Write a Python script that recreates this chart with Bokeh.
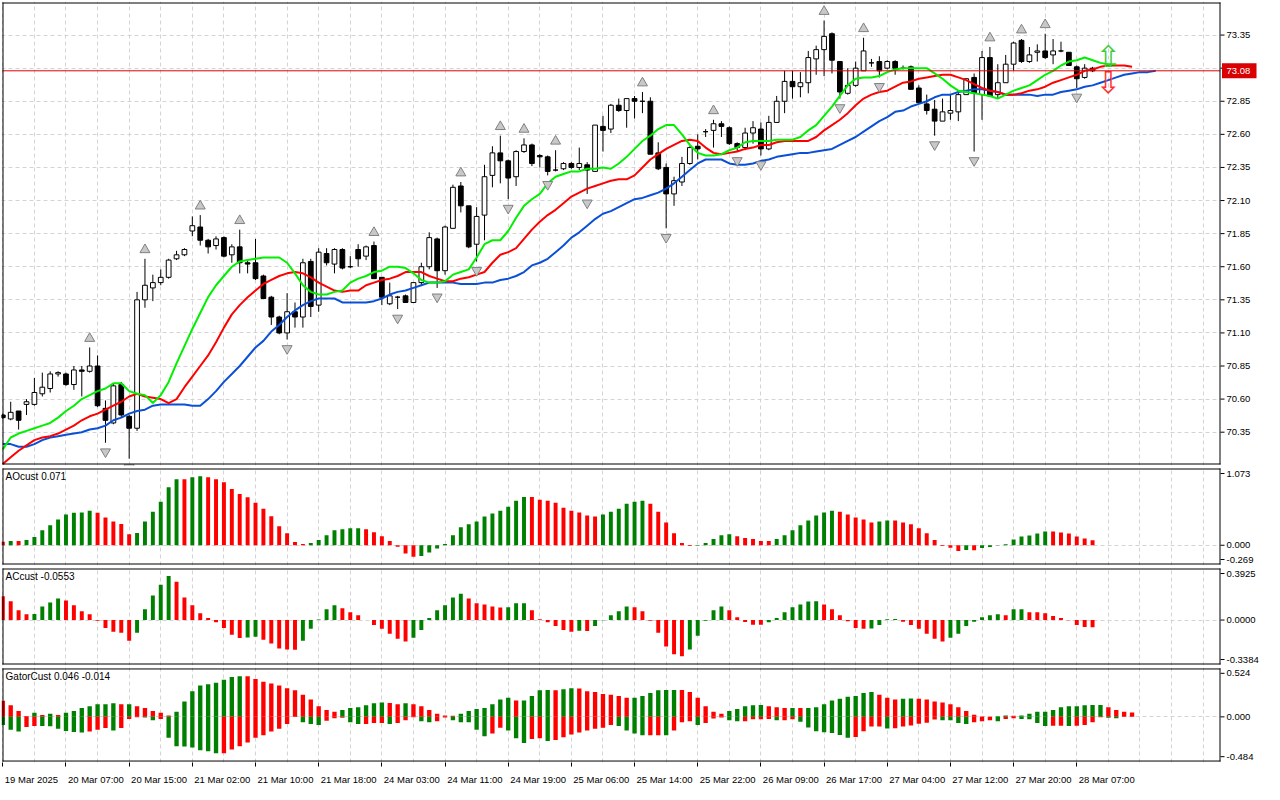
from bokeh.plotting import figure
from bokeh.layouts import column
from bokeh.models import Range1d, FixedTicker, Label
from bokeh.embed import file_html
from bokeh.resources import INLINE
from bokeh.core.properties import value

# ---------------- data ----------------
tick_bars = [0, 8, 16, 24, 32, 40, 48, 56, 64, 72, 80, 88, 96, 104, 112, 120, 128, 136]
tick_labels = ["19 Mar 2025", "20 Mar 07:00", "20 Mar 15:00", "21 Mar 02:00", "21 Mar 10:00",
               "21 Mar 18:00", "24 Mar 03:00", "24 Mar 11:00", "24 Mar 19:00", "25 Mar 06:00",
               "25 Mar 14:00", "25 Mar 22:00", "26 Mar 09:00", "26 Mar 17:00", "27 Mar 04:00",
               "27 Mar 12:00", "27 Mar 20:00", "28 Mar 07:00"]

opens = [70.48,70.45,70.51,70.56,70.56,70.64,70.68,70.79,70.79,70.71,
         70.82,70.81,70.85,70.53,70.42,70.71,70.47,70.38,71.35,71.44,
         71.48,71.52,71.66,71.69,71.87,71.90,71.80,71.76,71.82,71.69,
         71.75,71.63,71.63,71.53,71.37,71.22,71.10,71.26,71.22,71.64,
         71.31,71.70,71.62,71.73,71.60,71.73,71.68,71.76,71.52,71.32,
         71.37,71.38,71.33,71.48,71.60,71.81,71.57,71.89,72.21,72.06,
         71.77,71.99,72.29,72.46,72.40,72.28,72.47,72.52,72.44,72.43,
         72.33,72.34,72.38,72.35,72.37,72.32,72.66,72.64,72.82,72.78,
         72.87,72.85,72.85,72.46,72.35,72.15,72.24,72.38,72.51,72.62,
         72.63,72.68,72.65,72.53,72.50,72.61,72.64,72.49,72.69,72.85,
         73.00,72.96,72.99,73.17,73.24,73.36,73.15,72.91,72.97,73.08,
         73.14,73.15,73.10,73.15,73.10,73.11,72.95,72.83,72.79,72.70,
         72.76,72.77,72.90,73.03,72.90,73.18,72.90,72.99,73.13,73.31,
         73.15,73.22,73.23,73.20,73.23,73.22,73.11,73.03,73.10]
highs = [70.49,70.58,70.51,70.60,70.76,70.80,70.81,70.81,70.80,70.85,
         70.85,70.99,70.93,70.59,70.72,70.73,70.48,71.41,71.66,71.54,
         71.58,71.66,71.72,71.74,71.98,71.99,71.81,71.83,71.83,71.77,
         71.88,71.65,71.81,71.54,71.38,71.23,71.40,71.33,71.66,71.66,
         71.74,71.74,71.74,71.74,71.68,71.77,71.76,71.79,71.52,71.48,
         71.38,71.39,71.48,71.63,71.86,71.82,71.91,72.22,72.24,72.06,
         72.05,72.37,72.51,72.59,72.41,72.48,72.57,72.53,72.45,72.44,
         72.48,72.39,72.39,72.50,72.39,72.67,72.74,72.83,72.87,72.87,
         72.89,72.92,72.88,72.54,72.38,72.28,72.43,72.51,72.60,72.64,
         72.71,72.70,72.66,72.54,72.65,72.70,72.69,72.74,72.89,73.08,
         73.08,73.07,73.23,73.27,73.46,73.37,73.15,73.10,73.15,73.33,
         73.17,73.19,73.16,73.16,73.12,73.12,72.97,72.90,72.86,72.87,
         72.90,72.92,73.02,73.06,73.23,73.26,73.13,73.20,73.30,73.32,
         73.26,73.28,73.36,73.32,73.30,73.22,73.12,73.13,73.11]
lows = [70.45,70.44,70.37,70.48,70.55,70.62,70.65,70.77,70.70,70.67,
        70.62,70.80,70.54,70.27,70.41,70.46,70.15,70.36,71.29,71.34,
        71.46,71.51,71.65,71.68,71.83,71.76,71.70,71.73,71.67,71.63,
        71.55,71.55,71.50,71.36,71.16,71.09,71.05,71.14,71.14,71.22,
        71.26,71.61,71.55,71.58,71.59,71.60,71.65,71.51,71.31,71.31,
        71.28,71.33,71.33,71.46,71.58,71.44,71.54,71.89,72.01,71.74,
        71.64,71.80,72.20,72.23,72.11,72.21,72.46,72.36,72.35,72.29,
        72.32,72.33,72.34,72.33,72.15,72.32,72.47,72.61,72.77,72.65,
        72.72,72.76,72.45,72.33,71.89,72.06,72.21,72.37,72.41,72.58,
        72.50,72.58,72.52,72.47,72.48,72.53,72.44,72.48,72.69,72.76,
        72.87,72.88,72.91,73.05,73.04,73.06,72.87,72.90,72.96,73.08,
        73.11,73.03,73.09,73.05,73.09,72.94,72.84,72.75,72.59,72.70,
        72.71,72.70,72.90,72.47,72.71,72.89,72.87,72.99,73.08,73.14,
        73.14,73.15,73.17,73.13,73.22,73.12,72.95,73.02,73.07]
closes = [70.46,70.50,70.44,70.58,70.65,70.69,70.79,70.80,70.71,70.82,
          70.81,70.85,70.55,70.44,70.70,70.48,70.38,71.35,71.46,71.48,
          71.52,71.65,71.69,71.73,71.91,71.80,71.75,71.81,71.68,71.75,
          71.63,71.62,71.51,71.36,71.22,71.10,71.26,71.22,71.63,71.30,
          71.71,71.63,71.73,71.59,71.60,71.66,71.75,71.51,71.37,71.38,
          71.37,71.33,71.48,71.60,71.82,71.57,71.90,72.20,72.06,71.75,
          71.98,72.28,72.46,72.40,72.27,72.47,72.52,72.38,72.43,72.32,
          72.33,72.38,72.35,72.38,72.33,72.67,72.63,72.82,72.78,72.87,
          72.85,72.85,72.45,72.34,72.15,72.25,72.38,72.50,72.49,72.62,
          72.68,72.66,72.53,72.50,72.61,72.65,72.49,72.69,72.85,73.00,
          72.96,72.99,73.18,73.24,73.34,73.16,72.92,72.97,73.10,73.23,
          73.14,73.08,73.15,73.10,73.10,72.94,72.84,72.78,72.70,72.77,
          72.78,72.90,73.02,72.91,73.18,72.89,72.99,73.13,73.29,73.15,
          73.20,73.23,73.18,73.23,73.23,73.12,73.02,73.10,73.08]

# Alligator (already shifted forward as displayed)
lips = [70.22,70.31,70.34,70.36,70.38,70.40,70.42,70.46,70.51,70.55,
        70.60,70.63,70.66,70.68,70.72,70.72,70.66,70.64,70.63,70.57,
        70.63,70.73,70.87,71.00,71.13,71.25,71.37,71.46,71.53,71.60,
        71.64,71.65,71.66,71.67,71.67,71.67,71.63,71.55,71.46,71.41,
        71.39,71.39,71.41,71.42,71.48,71.51,71.53,71.56,71.57,71.60,
        71.60,71.59,71.55,71.50,71.48,71.48,71.49,71.54,71.56,71.58,
        71.67,71.77,71.80,71.80,71.87,71.97,72.06,72.11,72.15,72.23,
        72.28,72.30,72.32,72.32,72.34,72.34,72.35,72.34,72.38,72.43,
        72.49,72.55,72.59,72.64,72.67,72.67,72.60,72.52,72.46,72.44,
        72.44,72.45,72.48,72.50,72.54,72.55,72.55,72.55,72.56,72.56,
        72.56,72.58,72.63,72.67,72.74,72.81,72.89,72.97,73.02,73.03,
        73.03,73.04,73.07,73.09,73.10,73.10,73.10,73.10,73.06,73.02,
        72.97,72.93,72.92,72.91,72.90,72.89,72.87,72.90,72.93,72.95,
        72.97,73.01,73.05,73.08,73.12,73.15,73.16,73.18,73.16,73.14,
        73.13,73.13]
teeth = [70.11,70.16,70.21,70.25,70.29,70.31,70.32,70.34,70.37,70.40,
         70.44,70.47,70.49,70.52,70.55,70.58,70.62,70.64,70.62,70.61,
         70.60,70.57,70.60,70.69,70.77,70.85,70.93,71.03,71.14,71.24,
         71.31,71.37,71.42,71.47,71.50,71.53,71.55,71.56,71.55,71.52,
         71.48,71.45,71.42,71.41,71.42,71.42,71.46,71.48,71.50,71.51,
         71.53,71.56,71.56,71.56,71.53,71.51,71.49,71.49,71.51,71.52,
         71.54,71.56,71.63,71.69,71.71,71.74,71.81,71.88,71.94,71.99,
         72.03,72.08,72.13,72.16,72.19,72.21,72.23,72.25,72.26,72.26,
         72.29,72.35,72.41,72.45,72.49,72.52,72.55,72.56,72.55,72.50,
         72.46,72.45,72.46,72.47,72.49,72.50,72.52,72.52,72.54,72.55,
         72.55,72.55,72.55,72.58,72.63,72.67,72.71,72.76,72.82,72.87,
         72.90,72.92,72.93,72.96,72.99,73.00,73.02,73.03,73.04,73.05,
         73.05,73.03,73.01,72.98,72.95,72.93,72.92,72.90,72.90,72.91,
         72.93,72.94,72.96,72.99,73.01,73.03,73.05,73.08,73.09,73.11,
         73.12,73.12,73.12,73.11]
jaw = [70.26,70.26,70.24,70.24,70.26,70.29,70.31,70.32,70.33,70.34,
       70.35,70.37,70.38,70.40,70.44,70.46,70.49,70.51,70.52,70.55,
       70.56,70.56,70.56,70.56,70.55,70.55,70.60,70.66,70.73,70.79,
       70.85,70.92,70.99,71.04,71.11,71.16,71.22,71.27,71.31,71.34,
       71.36,71.36,71.36,71.33,71.33,71.33,71.33,71.34,71.36,71.39,
       71.41,71.42,71.44,71.46,71.48,71.48,71.48,71.48,71.47,71.47,
       71.47,71.48,71.48,71.50,71.51,71.53,71.56,71.61,71.63,71.66,
       71.71,71.76,71.82,71.86,71.91,71.96,72.00,72.02,72.05,72.08,
       72.11,72.12,72.14,72.16,72.19,72.23,72.28,72.33,72.38,72.41,
       72.41,72.41,72.38,72.37,72.37,72.38,72.40,72.41,72.43,72.44,
       72.45,72.46,72.46,72.47,72.48,72.49,72.52,72.55,72.58,72.62,
       72.66,72.70,72.73,72.77,72.78,72.81,72.83,72.85,72.88,72.90,
       72.90,72.92,72.93,72.94,72.94,72.93,72.92,72.90,72.90,72.90,
       72.90,72.89,72.90,72.90,72.92,72.93,72.94,72.96,72.97,72.99,
       73.01,73.03,73.05,73.06,73.07,73.07,73.08]

fractal_up = [11, 18, 25, 30, 47, 58, 63, 66, 70, 81, 90, 104, 109, 125, 129, 132]
fractal_down = [13, 16, 36, 50, 55, 60, 64, 69, 74, 84, 93, 96, 106, 111, 118, 123, 136]

ao = [0.050,0.059,0.058,0.073,0.114,0.210,0.278,0.360,0.429,0.456,
      0.457,0.484,0.456,0.388,0.333,0.296,0.155,0.173,0.333,0.470,
      0.607,0.812,0.922,0.921,0.949,0.963,0.949,0.922,0.881,0.785,
      0.716,0.671,0.593,0.511,0.406,0.264,0.168,0.045,0.018,0.032,
      0.073,0.141,0.210,0.223,0.237,0.238,0.223,0.182,0.127,0.059,
      -0.020,-0.115,-0.160,-0.151,-0.101,-0.046,0.018,0.141,0.251,0.292,
      0.333,0.401,0.443,0.484,0.539,0.621,0.676,0.675,0.635,0.621,
      0.593,0.525,0.484,0.457,0.415,0.401,0.429,0.470,0.511,0.579,
      0.607,0.621,0.579,0.470,0.319,0.169,0.032,-0.010,-0.008,0.032,
      0.086,0.141,0.155,0.127,0.100,0.086,0.059,0.058,0.086,0.141,
      0.210,0.278,0.347,0.415,0.457,0.484,0.470,0.429,0.388,0.360,
      0.319,0.333,0.347,0.346,0.319,0.292,0.237,0.169,0.073,-0.010,
      -0.036,-0.082,-0.068,-0.070,-0.037,-0.023,-0.005,0.014,0.082,0.123,
      0.137,0.164,0.192,0.191,0.178,0.164,0.123,0.096,0.071]
ac = [0.181,0.144,0.075,0.045,0.046,0.104,0.134,0.164,0.149,0.112,
      0.067,0.045,-0.005,-0.060,-0.090,-0.097,-0.157,-0.097,0.082,0.187,
      0.269,0.336,0.291,0.172,0.112,0.052,0.015,-0.017,-0.060,-0.112,
      -0.137,-0.133,-0.128,-0.150,-0.179,-0.216,-0.224,-0.226,-0.157,-0.067,
      0.005,0.082,0.112,0.090,0.060,0.037,0.000,-0.037,-0.067,-0.104,
      -0.142,-0.164,-0.134,-0.075,0.015,0.075,0.112,0.172,0.201,0.164,
      0.127,0.119,0.104,0.096,0.098,0.127,0.128,0.075,0.007,-0.017,
      -0.045,-0.075,-0.090,-0.082,-0.083,-0.045,-0.002,0.037,0.067,0.104,
      0.097,0.067,-0.005,-0.097,-0.201,-0.261,-0.276,-0.224,-0.119,-0.005,
      0.075,0.104,0.075,0.022,-0.015,-0.035,-0.036,-0.017,0.015,0.060,
      0.097,0.119,0.142,0.143,0.119,0.082,0.037,-0.010,-0.060,-0.067,
      -0.064,-0.037,0.007,0.008,-0.012,-0.037,-0.067,-0.104,-0.142,-0.164,
      -0.134,-0.104,-0.045,-0.012,0.022,0.037,0.045,0.037,0.082,0.083,
      0.060,0.059,0.052,0.030,0.015,-0.002,-0.037,-0.052,-0.0553]
gator_up = [0.173,0.126,0.064,0.010,0.044,0.020,0.034,0.020,0.044,0.064,
            0.095,0.115,0.136,0.137,0.146,0.136,0.137,0.115,0.095,0.064,
            0.044,0.014,0.054,0.166,0.278,0.339,0.353,0.370,0.401,0.431,
            0.441,0.440,0.411,0.380,0.360,0.339,0.309,0.289,0.238,0.187,
            0.115,0.075,0.054,0.075,0.095,0.105,0.126,0.146,0.156,0.149,
            0.136,0.146,0.136,0.115,0.075,0.034,0.014,0.013,0.034,0.064,
            0.085,0.095,0.136,0.187,0.207,0.177,0.178,0.227,0.289,0.290,
            0.289,0.299,0.309,0.308,0.278,0.268,0.248,0.238,0.227,0.207,
            0.208,0.227,0.258,0.289,0.290,0.291,0.290,0.268,0.207,0.115,
            0.054,0.034,0.064,0.085,0.115,0.126,0.127,0.115,0.105,0.095,
            0.096,0.095,0.096,0.105,0.136,0.177,0.197,0.217,0.227,0.258,
            0.268,0.238,0.207,0.187,0.197,0.198,0.197,0.187,0.166,0.156,
            0.136,0.105,0.064,0.024,0.004,0.002,0.006,0.014,0.013,0.014,
            0.034,0.054,0.055,0.075,0.105,0.115,0.116,0.126,0.127,0.128,
            0.105,0.075,0.054,0.046]
gator_down = [-0.088,-0.139,-0.160,-0.109,-0.098,-0.100,-0.102,-0.129,-0.153,-0.163,
              -0.170,-0.160,-0.139,-0.122,-0.149,-0.122,-0.024,-0.005,-0.008,-0.037,
              -0.024,-0.227,-0.319,-0.320,-0.333,-0.363,-0.373,-0.394,-0.393,-0.353,
              -0.319,-0.278,-0.227,-0.200,-0.160,-0.129,-0.078,-0.002,-0.058,-0.078,
              -0.088,-0.041,-0.015,-0.010,-0.058,-0.078,-0.077,-0.068,-0.067,-0.078,
              -0.068,-0.037,-0.005,-0.048,-0.058,-0.048,-0.007,-0.037,-0.058,-0.059,
              -0.139,-0.210,-0.180,-0.119,-0.149,-0.231,-0.282,-0.241,-0.231,-0.261,
              -0.251,-0.221,-0.190,-0.170,-0.149,-0.129,-0.119,-0.088,-0.098,-0.149,
              -0.180,-0.200,-0.199,-0.198,-0.200,-0.149,-0.058,-0.048,-0.088,-0.068,
              -0.017,-0.007,-0.037,-0.048,-0.047,-0.027,-0.026,-0.024,-0.037,-0.036,
              -0.025,-0.054,-0.115,-0.156,-0.166,-0.176,-0.197,-0.227,-0.217,-0.156,
              -0.105,-0.104,-0.125,-0.124,-0.105,-0.095,-0.075,-0.064,-0.030,-0.037,
              -0.038,-0.068,-0.078,-0.058,-0.048,-0.037,-0.047,-0.024,-0.014,-0.024,
              -0.025,-0.068,-0.098,-0.097,-0.096,-0.098,-0.097,-0.088,-0.058,-0.005,
              -0.010,-0.014]

last_price = 73.08
price_ticks = [70.35, 70.60, 70.85, 71.10, 71.35, 71.60, 71.85, 72.10, 72.35, 72.60, 72.85, 73.10, 73.35]
price_range = (70.106, 73.596)
ao_range = (-0.269, 1.073)
ao_labels = ["-0.269", "0.000", "1.073"]
ac_range = (-0.3384, 0.3925)
ac_labels = ["-0.3384", "0.0000", "0.3925"]
gator_range = (-0.484, 0.524)
gator_labels = ["-0.484", "0.000", "0.524"]
signal_bar = 140
signal_up_price = 73.19
signal_down_price = 72.99

# ---------------- styling ----------------
FONT = "Liberation Sans"
FS = "9.5px"
GREEN = "#008000"
RED = "#FF0000"
GRID = "#D4D4D4"
W = 1264
X0, X1 = -0.04, 154.2          # bar span of the plot boxes
PX = 1218.0 / (X1 - X0)        # pixels per bar
XS = X0 - 1.0 / PX             # every frame is 1263 px wide: plot box + price-scale strip
XR = Range1d(XS, XS + 1263.0 / PX)


def both_keys(d):
    out = {}
    for k, v in d.items():
        out[k] = v
        out[str(k)] = v
    return out


def panel(h_box, y0, y1, bottom=1, xaxis=False):
    """Figure whose frame holds the plot box (h_box px tall, 1px inset) and the scale strip."""
    py = (y1 - y0) / h_box
    p = figure(width=W, height=h_box + 2 + 1 + bottom, x_range=XR,
               y_range=Range1d(y0 - py, y1 + py),
               output_backend="svg", toolbar_location=None, tools="",
               x_axis_location="below" if xaxis else None, y_axis_location=None,
               min_border_left=1, min_border_right=0, min_border_top=1, min_border_bottom=bottom)
    p.outline_line_color = None
    p.background_fill_color = "white"
    p.border_fill_color = "white"
    p.xgrid.ticker = FixedTicker(ticks=list(range(0, 156, 4)))
    p.xgrid.grid_line_color = GRID
    p.xgrid.grid_line_dash = "4 3"
    p.ygrid.grid_line_color = GRID
    p.ygrid.grid_line_dash = "4 3"
    return p, py


def scale_strip(p, y0, y1, py, ticks, texts):
    """Cover the strip right of the box, draw the box border, tick marks and labels."""
    p.quad(left=[X1], right=[XR.end], bottom=[y0 - py], top=[y1 + py],
           fill_color="white", line_color=None)
    hx, hy = 0.5 / PX, 0.5 * py
    p.segment(x0=[X0 + hx, X1 - hx, X0, X0], y0=[y0, y0, y0 + hy, y1 - hy],
              x1=[X0 + hx, X1 - hx, X1, X1], y1=[y1, y1, y0 + hy, y1 - hy],
              line_color="black", line_width=1)
    n = len(ticks)
    p.segment(x0=[X1] * n, y0=ticks, x1=[X1 + 4.0 / PX] * n, y1=ticks,
              line_color="black", line_width=1)
    p.text(x=[X1 + 6.0 / PX] * n, y=ticks, text=texts, text_font=value(FONT),
           text_font_size=FS, text_color="black", text_align="left", text_baseline="middle")


def sub_scale(p, rng, py, texts):
    lo, hi = rng
    ticks = [lo + 5 * py, 0.0, hi - 5 * py]
    p.ygrid.ticker = FixedTicker(ticks=[0])
    scale_strip(p, lo, hi, py, ticks, texts)


def updown(vals, first, use_abs=False):
    cols = [first]
    for i in range(1, len(vals)):
        a, b = vals[i], vals[i - 1]
        if use_abs:
            a, b = abs(a), abs(b)
        cols.append(GREEN if a > b else RED)
    return cols


def title(p, text, hi, py):
    p.add_layout(Label(x=0.35, y=hi - 2.5 * py, text=text, text_font=FONT,
                       text_font_size="10px", text_color="black", text_baseline="top",
                       text_align="left"))


# ---------------- main price panel ----------------
P0, P1 = price_range
main, PY = panel(462, P0, P1)
main.ygrid.ticker = FixedTicker(ticks=price_ticks)

idx = list(range(len(opens)))
bull = [i for i in idx if closes[i] >= opens[i]]
bear = [i for i in idx if closes[i] < opens[i]]
main.segment(x0=idx, y0=highs, x1=idx, y1=lows, line_color="black", line_width=1)
main.vbar(x=bull, width=0.6, top=[closes[i] for i in bull], bottom=[opens[i] for i in bull],
          fill_color="white", line_color="black", line_width=1)
main.vbar(x=bear, width=0.6, top=[opens[i] for i in bear], bottom=[closes[i] for i in bear],
          fill_color="black", line_color="black", line_width=1)

main.line(list(range(len(jaw))), jaw, line_color="#0A50D6", line_width=2)
main.line(list(range(len(teeth))), teeth, line_color="#FF0000", line_width=2)
main.line(list(range(len(lips))), lips, line_color="#00F000", line_width=2)

off = 9 * PY
main.scatter(x=fractal_up, y=[highs[i] + off for i in fractal_up], marker="triangle", size=10,
             fill_color="#C8C8C8", line_color="#808080", line_width=1)
main.scatter(x=fractal_down, y=[lows[i] - off for i in fractal_down], marker="inverted_triangle",
             size=10, fill_color="#C8C8C8", line_color="#808080", line_width=1)

main.text(x=[signal_bar], y=[signal_up_price], text=["\u21e7"], text_font=value("DejaVu Sans"),
          text_font_size="30px", text_color="#3CCB3C", text_align="center", text_baseline="middle")
main.text(x=[signal_bar], y=[signal_down_price], text=["\u21e9"], text_font=value("DejaVu Sans"),
          text_font_size="30px", text_color="#FF3030", text_align="center", text_baseline="middle")

main.segment(x0=[X0], y0=[last_price], x1=[X1], y1=[last_price], line_color="#E00000", line_width=1)

scale_strip(main, P0, P1, PY, price_ticks, ["%.2f" % t for t in price_ticks])
main.quad(left=[X1 + 1.5 / PX], right=[X1 + 36.0 / PX], bottom=[last_price - 7.5 * PY],
          top=[last_price + 7.5 * PY], fill_color="#D80000", line_color=None)
main.text(x=[X1 + 6.0 / PX], y=[last_price], text=["%.2f" % last_price], text_font=value(FONT),
          text_font_size=FS, text_color="white", text_align="left", text_baseline="middle")

# ---------------- AO panel ----------------
pao, ao_py = panel(96, *ao_range)
pao.vbar(x=list(range(len(ao))), width=0.5, top=ao, bottom=0, fill_color=updown(ao, RED),
         line_color=None)
sub_scale(pao, ao_range, ao_py, ao_labels)
title(pao, "AOcust %.3f" % ao[-1], ao_range[1], ao_py)

# ---------------- AC panel ----------------
pac, ac_py = panel(96, *ac_range)
pac.vbar(x=list(range(len(ac))), width=0.5, top=ac, bottom=0, fill_color=updown(ac, RED),
         line_color=None)
sub_scale(pac, ac_range, ac_py, ac_labels)
title(pac, "ACcust %.4f" % ac[-1], ac_range[1], ac_py)

# ---------------- Gator panel ----------------
pg, g_py = panel(96, *gator_range, bottom=22, xaxis=True)
pg.vbar(x=list(range(len(gator_up))), width=0.55, top=gator_up, bottom=0,
        fill_color=updown(gator_up, RED), line_color=None)
pg.vbar(x=list(range(len(gator_down))), width=0.55, top=0, bottom=gator_down,
        fill_color=updown(gator_down, GREEN, use_abs=True), line_color=None)
sub_scale(pg, gator_range, g_py, gator_labels)
title(pg, "GatorCust %.3f %.3f" % (gator_up[-1], gator_down[-1]), gator_range[1], g_py)

# time axis: tick marks at the bar, label text starting just right of it
label_pos = [round(b + (3.63 if len(t) == 11 else 3.79), 2) for b, t in zip(tick_bars, tick_labels)]
xa = pg.xaxis[0]
xa.ticker = FixedTicker(ticks=label_pos, minor_ticks=tick_bars)
xa.major_label_overrides = both_keys(dict(zip(label_pos, tick_labels)))
xa.major_tick_line_color = None
xa.major_tick_out = 0
xa.major_tick_in = 0
xa.minor_tick_line_color = "black"
xa.minor_tick_out = 4
xa.minor_tick_in = 0
xa.axis_line_color = None
xa.major_label_text_font = FONT
xa.major_label_text_font_size = FS
xa.major_label_text_color = "black"
xa.major_label_standoff = 7

layout = column(main, pao, pac, pg, spacing=0)
open("out.html", "w").write(file_html(layout, INLINE))
